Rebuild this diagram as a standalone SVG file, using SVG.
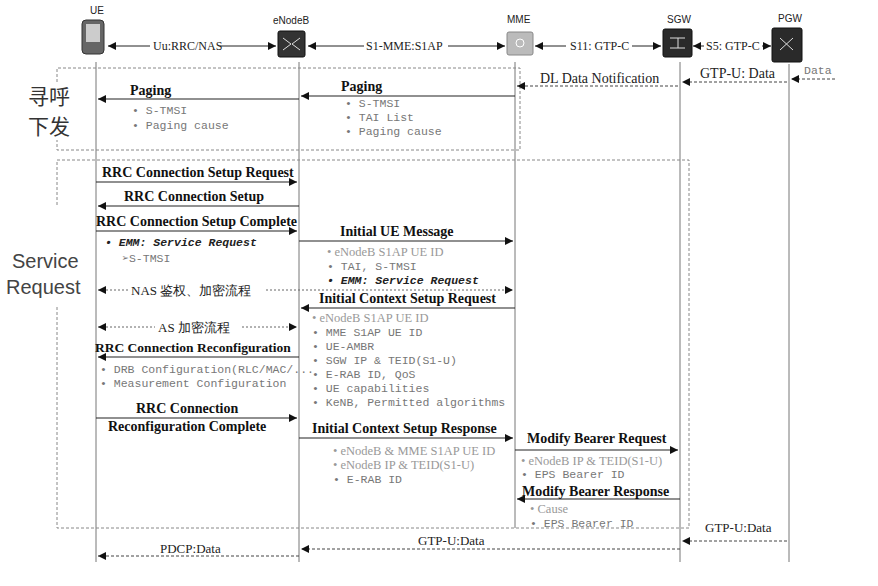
<svg xmlns="http://www.w3.org/2000/svg" width="878" height="586" viewBox="0 0 878 586">
<defs>
<marker id="a" viewBox="0 0 10 10" refX="10" refY="5" markerWidth="12" markerHeight="8" orient="auto-start-reverse" markerUnits="userSpaceOnUse"><path d="M0,0L10,5L0,10z" fill="#111"/></marker>
</defs>
<style>
.ll{stroke:#777;stroke-width:1}
.m{stroke:#222;stroke-width:1.2;fill:none;marker-end:url(#a)}
.d{stroke:#444;stroke-width:1;stroke-dasharray:3,2;fill:none;marker-end:url(#a)}
.dd{stroke:#666;stroke-width:1;stroke-dasharray:2,2;fill:none;marker-end:url(#a);marker-start:url(#a)}
.t{stroke:#222;stroke-width:1;fill:none;marker-end:url(#a);marker-start:url(#a)}
.box{fill:none;stroke:#888;stroke-dasharray:3,2}
.b{font-family:"Liberation Serif",serif;font-weight:bold;font-size:14px;fill:#111}
.s{font-family:"Liberation Serif",serif;font-size:12px;fill:#222}
.g{font-family:"Liberation Mono",monospace;font-size:11.5px;fill:#777}
.gl{font-family:"Liberation Serif",serif;font-size:12.5px;fill:#999}
.nm{font-family:"Liberation Sans",sans-serif;font-size:10px;fill:#222}
.cn{font-family:"Noto Sans CJK SC",sans-serif;font-size:21px;fill:#333}
.sr{font-family:"Liberation Sans",sans-serif;font-size:20px;fill:#444}
</style>
<rect width="878" height="586" fill="#fff"/>
<g id="UE"><text class="nm" x="90" y="14">UE</text><rect x="82" y="20" width="22" height="34" rx="4" fill="#666" stroke="#333"/><rect x="86" y="24" width="14" height="18" fill="#ccc"/></g>
<g id="eNodeB"><text class="nm" x="273" y="24">eNodeB</text><rect x="278" y="31" width="27" height="26" rx="2" fill="#333" stroke="#111"/><path d="M283,38l8,6l-8,6M300,38l-8,6l8,6" stroke="#ddd" fill="none"/></g>
<g id="MME"><text class="nm" x="507" y="23">MME</text><rect x="507" y="32" width="26" height="23" rx="2" fill="#bbb" stroke="#888"/><circle cx="520" cy="43" r="4" fill="none" stroke="#fff"/></g>
<g id="SGW"><text class="nm" x="667" y="23">SGW</text><rect x="663" y="29" width="29" height="28" rx="2" fill="#2a2a2a" stroke="#111"/><path d="M670,38h15M670,48h15M678,38v10" stroke="#ddd"/></g>
<g id="PGW"><text class="nm" x="778" y="22">PGW</text><rect x="772" y="28" width="30" height="34" rx="2" fill="#2a2a2a" stroke="#111"/><path d="M780,38l13,12M793,38l-13,12" stroke="#ddd"/></g>
<g id="lifelines">
<line class="ll" x1="96" y1="62" x2="96" y2="562"/><line class="ll" x1="299" y1="62" x2="299" y2="562"/><line class="ll" x1="515" y1="62" x2="515" y2="528"/><line class="ll" x1="680" y1="62" x2="680" y2="562"/><line class="ll" x1="789" y1="64" x2="789" y2="562"/>
</g>
<path class="box" d="M57,82V68H520V150H57V140"/>
<path class="box" d="M57,205V160H689V528H57V305"/>
<text class="cn" x="28" y="104">寻呼</text><text class="cn" x="28" y="134">下发</text>
<text class="sr" x="12" y="268">Service</text><text class="sr" x="6" y="294">Request</text>
<g id="connectors">
<line class="t" x1="108" y1="46" x2="276" y2="46"/><rect x="150" y="39" width="70" height="14" fill="#fff"/><text class="s" x="153" y="50">Uu:RRC/NAS</text>
<line class="t" x1="308" y1="46" x2="505" y2="46"/><rect x="364" y="39" width="84" height="14" fill="#fff"/><text class="s" x="366" y="50">S1-MME:S1AP</text>
<line class="t" x1="535" y1="46" x2="661" y2="46"/><rect x="566" y="39" width="66" height="14" fill="#fff"/><text class="s" x="570" y="50">S11: GTP-C</text>
<line class="t" x1="693" y1="46" x2="771" y2="46"/><rect x="704" y="39" width="58" height="14" fill="#fff"/><text class="s" x="706" y="50">S5: GTP-C</text>

<line class="d" x1="835" y1="79" x2="791" y2="79"/><text class="g" x="804" y="74">Data</text>
<line class="d" x1="787" y1="82" x2="682" y2="82"/><text class="s" x="700" y="78" style="font-size:14px">GTP-U: Data</text>
<line class="d" x1="678" y1="86" x2="517" y2="86"/><text class="s" x="540" y="83" style="font-size:14px">DL Data Notification</text>
<line class="m" x1="515" y1="96" x2="301" y2="96"/><text class="b" x="341" y="91">Paging</text>
<text class="g" x="345" y="107">• S-TMSI</text><text class="g" x="345" y="121">• TAI List</text><text class="g" x="345" y="135">• Paging cause</text>
<line class="m" x1="299" y1="99" x2="98" y2="99"/><text class="b" x="130" y="95">Paging</text>
<text class="g" x="132" y="114">• S-TMSI</text><text class="g" x="132" y="129">• Paging cause</text>

<line class="m" x1="96" y1="182" x2="297" y2="182"/><text class="b" x="102" y="177">RRC Connection Setup Request</text>
<line class="m" x1="299" y1="206" x2="98" y2="206"/><text class="b" x="124" y="201">RRC Connection Setup</text>
<line class="m" x1="96" y1="231" x2="297" y2="231"/><text class="b" x="96" y="226">RRC Connection Setup Complete</text>
<text class="g" x="105" y="246" style="fill:#222;font-style:italic;font-weight:bold">• EMM: Service Request</text>
<text class="g" x="122" y="262">➢S-TMSI</text>
<line class="m" x1="299" y1="241" x2="513" y2="241"/><text class="b" x="340" y="236">Initial UE Message</text>
<text class="gl" x="327" y="256">• eNodeB S1AP UE ID</text><text class="g" x="327" y="270">• TAI, S-TMSI</text>
<text class="g" x="327" y="284" style="fill:#222;font-style:italic;font-weight:bold">• EMM: Service Request</text>
<line class="dd" x1="98" y1="290" x2="513" y2="290"/><rect x="128" y="282" width="138" height="16" fill="#fff"/><text class="s" x="131" y="295" style="font-size:13px">NAS 鉴权、加密流程</text>
<line class="m" x1="515" y1="308" x2="301" y2="308"/><text class="b" x="319" y="303">Initial Context Setup Request</text>
<text class="gl" x="312" y="322">• eNodeB S1AP UE ID</text><text class="g" x="312" y="336">• MME S1AP UE ID</text><text class="g" x="312" y="350">• UE-AMBR</text><text class="g" x="312" y="364">• SGW IP &amp; TEID(S1-U)</text><text class="g" x="312" y="378">• E-RAB ID, QoS</text><text class="g" x="312" y="392">• UE capabilities</text><text class="g" x="312" y="406">• KeNB, Permitted algorithms</text>
<line class="dd" x1="98" y1="327" x2="297" y2="327"/><rect x="155" y="319" width="86" height="16" fill="#fff"/><text class="s" x="158" y="332" style="font-size:13px">AS 加密流程</text>
<line class="m" x1="299" y1="357" x2="98" y2="357"/><text class="b" x="95" y="352" style="font-size:13.5px">RRC Connection Reconfiguration</text>
<text class="g" x="100" y="373">• DRB Configuration(RLC/MAC/...</text><text class="g" x="100" y="387">• Measurement Configuration</text>
<line class="m" x1="96" y1="418" x2="297" y2="418"/><text class="b" x="136" y="413">RRC Connection</text><text class="b" x="108" y="431">Reconfiguration Complete</text>
<line class="m" x1="299" y1="438" x2="513" y2="438"/><text class="b" x="312" y="433">Initial Context Setup Response</text>
<text class="gl" x="333" y="455">• eNodeB &amp; MME S1AP UE ID</text><text class="gl" x="333" y="469">• eNodeB IP &amp; TEID(S1-U)</text><text class="g" x="333" y="483">• E-RAB ID</text>
<line class="m" x1="515" y1="450" x2="678" y2="450"/><text class="b" x="527" y="443">Modify Bearer Request</text>
<text class="gl" x="521" y="465">• eNodeB IP &amp; TEID(S1-U)</text><text class="g" x="521" y="478">• EPS Bearer ID</text>
<line class="m" x1="680" y1="499" x2="517" y2="499"/><text class="b" x="522" y="496">Modify Bearer Response</text>
<text class="gl" x="530" y="513">• Cause</text><text class="g" x="530" y="527">• EPS Bearer ID</text>
<line class="d" x1="787" y1="541" x2="682" y2="541"/><text class="s" x="705" y="532" style="font-size:13px">GTP-U:Data</text>
<line class="d" x1="680" y1="549" x2="301" y2="549"/><text class="s" x="418" y="545" style="font-size:13px">GTP-U:Data</text>
<line class="d" x1="299" y1="556" x2="98" y2="556"/><text class="s" x="160" y="553" style="font-size:13px">PDCP:Data</text>
</g>
</svg>
